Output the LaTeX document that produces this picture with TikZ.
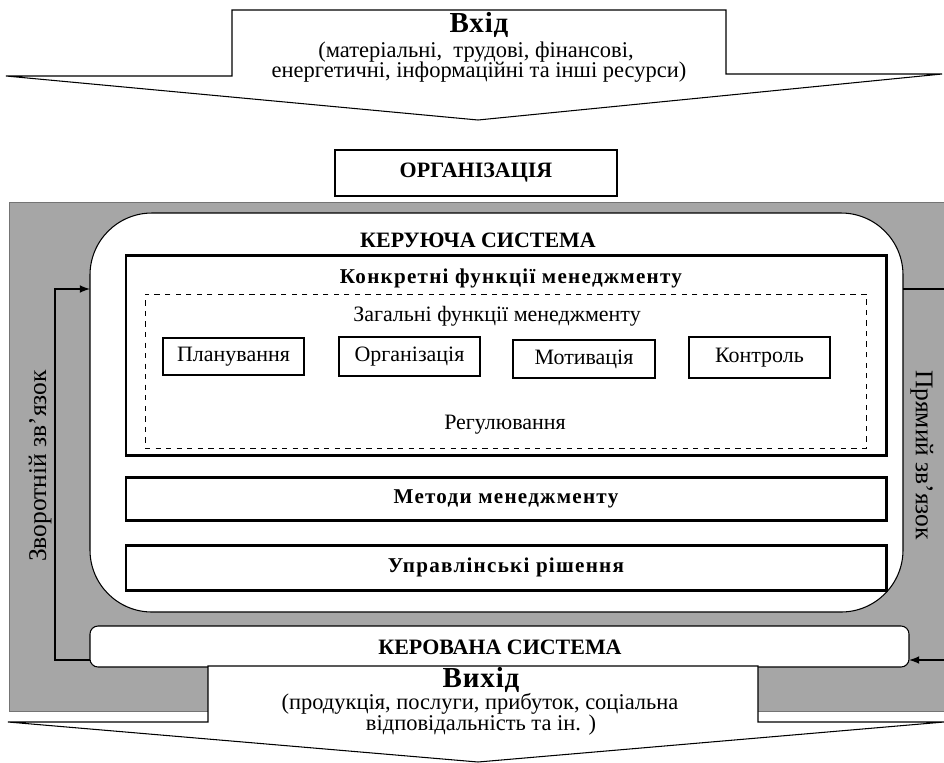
\documentclass[tikz,border=0pt]{standalone}
\usepackage{fontspec}
\setmainfont{Liberation Serif}
\newfontfamily\rozriadka{Liberation Serif}[LetterSpace=6]
\newfontfamily\trokhyrozr{Liberation Serif}[LetterSpace=3]
\usepackage{tikz}
\usetikzlibrary{arrows}
\usetikzlibrary{fit}
\definecolor{fonsiryi}{RGB}{166,166,166}
\tikzset{
  ramka/.style={draw, fill=white, inner sep=0pt, outer sep=0pt, line width=0.6pt},
  tovsta/.style={ramka, line width=1.7pt},
  punktyr/.style={draw, dashed, inner sep=0pt, outer sep=0pt, line width=0.4pt},
  napys/.style={font=\fontsize{12.5}{14}\selectfont},
  zhyrnyi/.style={font=\fontsize{12.5}{14}\bfseries\selectfont},
  rozr/.style={font=\fontsize{12}{14}\rozriadka\bfseries},
  holovnyi/.style={font=\fontsize{16.5}{18}\trokhyrozr\bfseries},
  poiasnennia/.style={font=\fontsize{12.8}{15}\selectfont, inner sep=0pt},
  bichnyi/.style={font=\fontsize{14.5}{16}\selectfont},
  zviazok/.style={line width=1pt, -latex}
}

\begin{document}
\begin{tikzpicture}[x=0.02cm, y=-0.02cm, line join=miter]
			\useasboundingbox (0,0) rectangle (944,762);
			% vkhid
			\draw[line width=0.6pt, fill=white] (232,10) -- (726,10) -- (726,74) -- (942,74)
			  -- (478,120) -- (6,76) -- (232,76) -- cycle;
			\node[holovnyi] (vkhid) at (479,25) {Вхід};
			\node[poiasnennia] (resursy1) at (476,52) {(матеріальні, \ трудові, фінансові,};
			\node[poiasnennia] (resursy2) at (479,72) {енергетичні, інформаційні та інші ресурси)};
			\node[ramka, fit={(335,150) (617,196)}] (orh) {};
			\node[zhyrnyi] (orhT) at (orh.center) {ОРГАНІЗАЦІЯ};
			% sire tlo
			\draw[fonsiryi!70!black, fill=fonsiryi, line width=0.5pt] (9,202) rectangle (946,711);
			\node[ramka, rounded corners=1.24cm, fit={(90,213) (903,612)}] (keruyucha) {};
			\draw[fill=fonsiryi, draw=none] (904,347) rectangle (944,535);
			\node[zhyrnyi] (kerT) at (478,240) {КЕРУЮЧА СИСТЕМА};
			\node[tovsta, fit={(126,255) (886,455)}] (konkr) {};
			\node[rozr] (konkrT) at (511,278) {Конкретні функції менеджменту};
			\node[punktyr, fit={(145,294) (866,448)}] (zahal) {};
			\node[napys] (zahalT) at (497,316) {Загальні функції менеджменту};
			\node[ramka, fit={(163,338) (304,375)}] (plan) {};
			\node[ramka, fit={(339,337) (480,376)}] (orhf) {};
			\node[ramka, fit={(513,340) (655,378)}] (motyv) {};
			\node[ramka, fit={(689,337) (830,378)}] (kontr) {};
			\node[napys] at (plan.center) {Планування};
			\node[napys] at (orhf.center) {Організація};
			\node[napys] at (motyv.center) {Мотивація};
			\node[napys] at (kontr.center) {Контроль};
			\node[napys] (rehul) at (505,425) {Регулювання};
			\node[tovsta, fit={(126,477) (886,520)}] (metody) {};
			\node[tovsta, fit={(126,545) (886,590)}] (rishennia) {};
			\node[rozr] at (metody.center) {Методи менеджменту};
			\node[rozr] at (rishennia.center) {Управлінські рішення};
			\node[ramka, rounded corners=0.16cm, fit={(90,626) (909,667)}] (kerovana) {};
			\node[zhyrnyi] (kerovT) at (500,647) {КЕРОВАНА СИСТЕМА};
			% vykhid
			\draw[line width=0.6pt, fill=white] (208,666) -- (758,666) -- (758,722) -- (944,722)
			  -- (478,762) -- (8,722) -- (208,722) -- cycle;
			\node[holovnyi] (vykhid) at (481,680) {Вихід};
			\node[poiasnennia] (rezult1) at (480,704) {(продукція, послуги, прибуток, соціальна};
			\node[poiasnennia] (rezult2) at (481,725) {відповідальність та ін. )};
			% zviazky
			\coordinate (zn) at (55,660);
			\coordinate (zv) at (55,289);
			\coordinate (pv) at (944,289);
			\coordinate (pn) at (944,660);
			\draw[zviazok] (kerovana.west |- zn) -- (zn) -- (zv) -- (keruyucha.west |- zv);
			\draw[line width=1pt] (keruyucha.east |- pv) -- (pv);
			\draw[zviazok] (pn) -- (kerovana.east |- pn);
			\node[bichnyi, rotate=90] (zvorot) at (40,466) {Зворотній зв’язок};
			\node[bichnyi, rotate=-90] (priamyi) at (922,455) {Прямий зв’язок};
		\end{tikzpicture}
\end{document}
